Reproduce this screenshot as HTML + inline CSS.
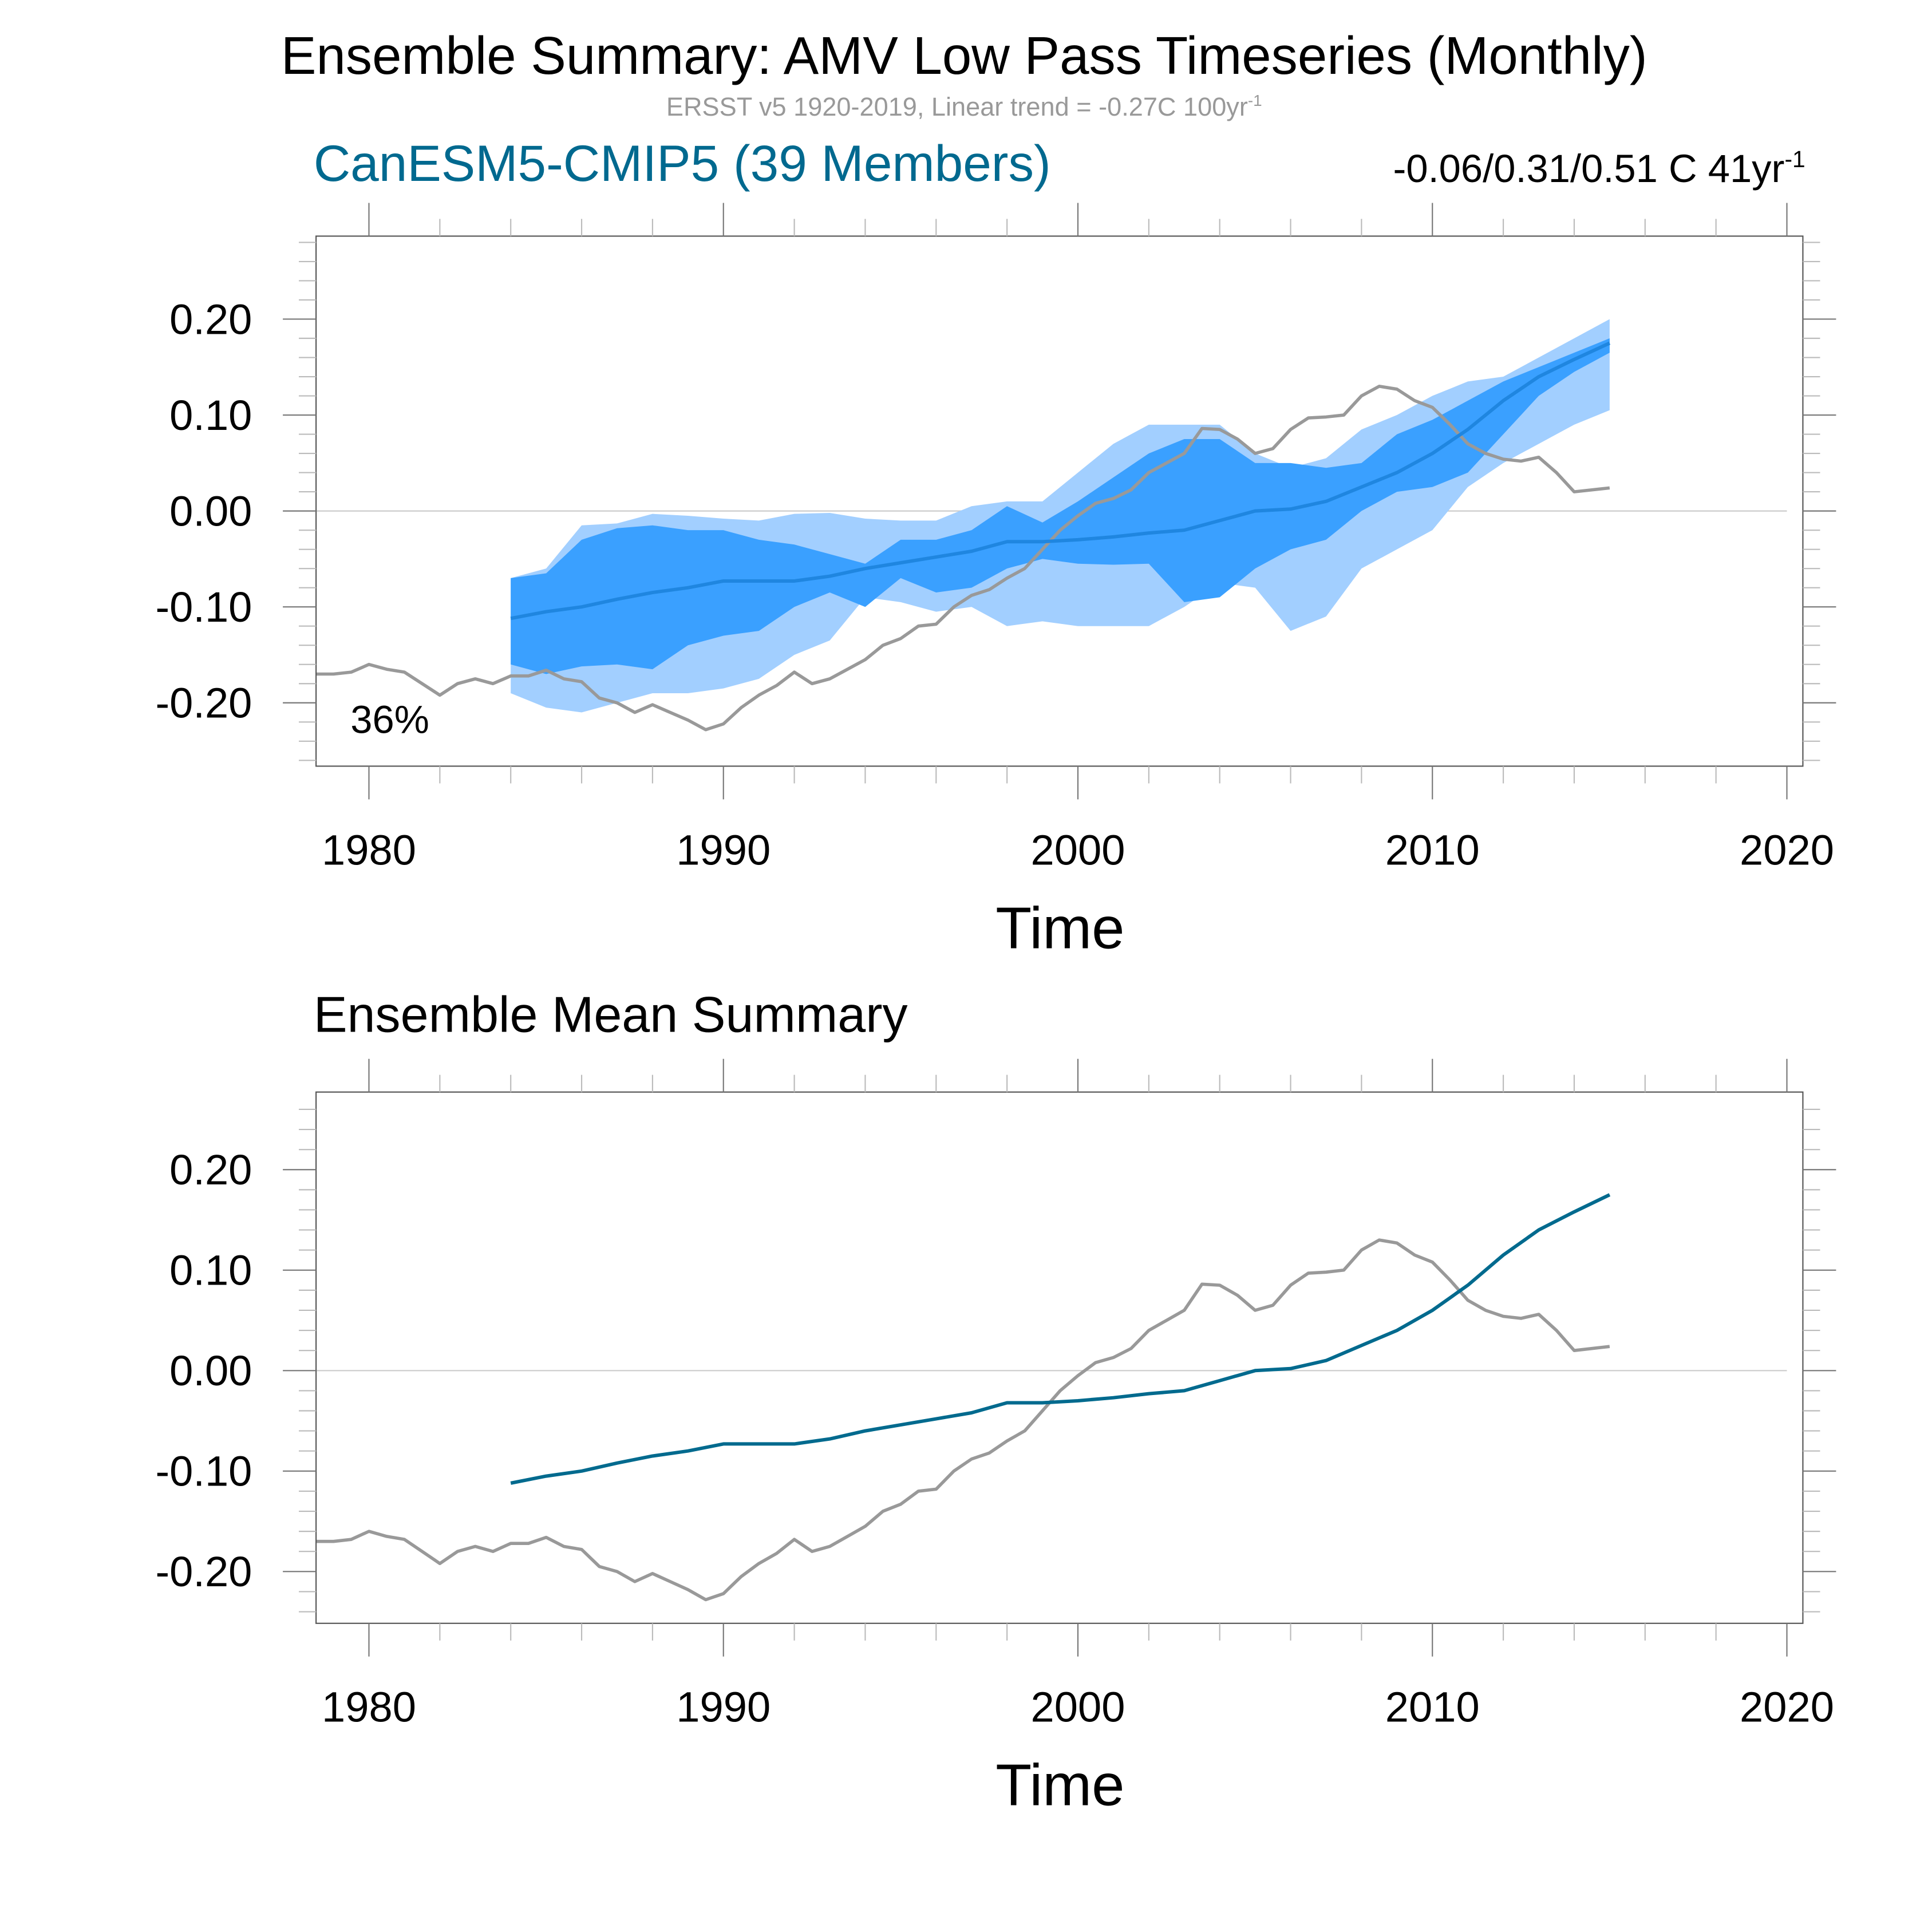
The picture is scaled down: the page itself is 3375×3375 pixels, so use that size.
<!DOCTYPE html>
<html><head><meta charset="utf-8"><style>
html,body{margin:0;padding:0;background:#fff}
svg{display:block}
text{font-family:"Liberation Sans",sans-serif}
</style></head><body>
<svg id="chart" width="3375" height="3375" viewBox="0 0 1571 1571" xmlns="http://www.w3.org/2000/svg">
<rect width="1571" height="1571" fill="#fff"/>
<text x="784" y="60" text-anchor="middle" font-size="43">Ensemble Summary: AMV Low Pass Timeseries (Monthly)</text>
<text x="784" y="94" text-anchor="middle" font-size="21" fill="#999">ERSST v5 1920-2019, Linear trend = -0.27C 100yr<tspan font-size="13" dy="-8">-1</tspan></text>
<text x="255" y="147" font-size="41.5" fill="#00698f">CanESM5-CMIP5 (39 Members)</text>
<text x="1468" y="148" text-anchor="end" font-size="32">-0.06/0.31/0.51 C 41yr<tspan font-size="19" dy="-12">-1</tspan></text>
<text x="285" y="596" font-size="32">36%</text>
<text x="255" y="839" font-size="41">Ensemble Mean Summary</text>
<g id="top"></g>
<g id="bot"></g>
</svg>
<script>
const obsYears=[1978.5,1979,1979.5,1980,1980.5,1981,1981.5,1982,1982.5,1983,1983.5,1984,1984.5,1985,1985.5,1986,1986.5,1987,1987.5,1988,1988.5,1989,1989.5,1990,1990.5,1991,1991.5,1992,1992.5,1993,1993.5,1994,1994.5,1995,1995.5,1996,1996.5,1997,1997.5,1998,1998.5,1999,1999.5,2000,2000.5,2001,2001.5,2002,2002.5,2003,2003.5,2004,2004.5,2005,2005.5,2006,2006.5,2007,2007.5,2008,2008.5,2009,2009.5,2010,2010.5,2011,2011.5,2012,2012.5,2013,2013.5,2014,2014.5,2015];
const obsValues=[-0.17,-0.17,-0.168,-0.16,-0.165,-0.168,-0.18,-0.192,-0.18,-0.175,-0.18,-0.172,-0.172,-0.166,-0.175,-0.178,-0.195,-0.2,-0.21,-0.202,-0.21,-0.218,-0.228,-0.222,-0.205,-0.192,-0.182,-0.168,-0.18,-0.175,-0.165,-0.155,-0.14,-0.133,-0.12,-0.118,-0.1,-0.088,-0.082,-0.07,-0.06,-0.04,-0.02,-0.005,0.008,0.013,0.022,0.04,0.05,0.06,0.086,0.085,0.075,0.06,0.065,0.085,0.097,0.098,0.1,0.12,0.13,0.127,0.115,0.108,0.09,0.07,0.06,0.054,0.052,0.056,0.04,0.02,0.022,0.024];
const ensYears=[1984,1985,1986,1987,1988,1989,1990,1991,1992,1993,1994,1995,1996,1997,1998,1999,2000,2001,2002,2003,2004,2005,2006,2007,2008,2009,2010,2011,2012,2013,2014,2015];
const ensMean=[-0.112,-0.105,-0.1,-0.092,-0.085,-0.08,-0.073,-0.073,-0.073,-0.068,-0.06,-0.054,-0.048,-0.042,-0.032,-0.032,-0.03,-0.027,-0.023,-0.02,-0.01,0.0,0.002,0.01,0.025,0.04,0.06,0.085,0.115,0.14,0.158,0.175];
const innerUpper=[-0.07,-0.065,-0.03,-0.018,-0.015,-0.02,-0.02,-0.03,-0.035,-0.045,-0.055,-0.03,-0.03,-0.02,0.005,-0.012,0.01,0.035,0.06,0.075,0.075,0.05,0.05,0.045,0.05,0.08,0.095,0.115,0.135,0.15,0.165,0.18];
const innerLower=[-0.16,-0.17,-0.162,-0.16,-0.165,-0.14,-0.13,-0.125,-0.1,-0.085,-0.1,-0.07,-0.085,-0.08,-0.06,-0.05,-0.055,-0.056,-0.055,-0.095,-0.09,-0.06,-0.04,-0.03,0.0,0.02,0.025,0.04,0.08,0.12,0.145,0.165];
const outerUpper=[-0.07,-0.06,-0.015,-0.013,-0.003,-0.005,-0.008,-0.01,-0.003,-0.002,-0.008,-0.01,-0.01,0.005,0.01,0.01,0.04,0.07,0.09,0.09,0.09,0.06,0.045,0.055,0.085,0.1,0.12,0.135,0.14,0.16,0.18,0.2];
const outerLower=[-0.19,-0.205,-0.21,-0.2,-0.19,-0.19,-0.185,-0.175,-0.15,-0.135,-0.09,-0.095,-0.105,-0.1,-0.12,-0.115,-0.12,-0.12,-0.12,-0.1,-0.075,-0.08,-0.125,-0.11,-0.06,-0.04,-0.02,0.025,0.05,0.07,0.09,0.105];
const xTickLabels=["1980","1990","2000","2010","2020"];
const yTickValues=[-0.2,-0.1,0,0.1,0.2];
const yTickLabels=["-0.20","-0.10","0.00","0.10","0.20"];

const NS="http://www.w3.org/2000/svg";
function mk(parent,tag,attrs){const e=document.createElementNS(NS,tag);for(const k in attrs)e.setAttribute(k,attrs[k]);parent.appendChild(e);return e;}
const X0=257,X1=1466,Y0YR=1980,PXYR=(1453-300)/40;
function xs(yr){return 300+(yr-Y0YR)*PXYR;}

function panel(g,top,bottom,yZero,pxPerUnit,isTop){
  const ys=v=>yZero-v*pxPerUnit;
  const z=mk(g,'line',{x1:X0,x2:1453,y1:ys(0),y2:ys(0),stroke:'#ccc','stroke-width':1});
  
  if(isTop){
    let d='';ensYears.forEach((y,i)=>{d+=(i?'L':'M')+xs(y)+','+ys(outerUpper[i]);});
    for(let i=ensYears.length-1;i>=0;i--)d+='L'+xs(ensYears[i])+','+ys(outerLower[i]);
    const p1=mk(g,'path',{d:d+'Z',fill:'#a2cfff'});
    
    d='';ensYears.forEach((y,i)=>{d+=(i?'L':'M')+xs(y)+','+ys(innerUpper[i]);});
    for(let i=ensYears.length-1;i>=0;i--)d+='L'+xs(ensYears[i])+','+ys(innerLower[i]);
    const p2=mk(g,'path',{d:d+'Z',fill:'#3aa0ff'});
    
  }
  let d='';obsYears.forEach((y,i)=>{d+=(i?'L':'M')+xs(y)+','+ys(obsValues[i]);});
  const o=mk(g,'path',{d:d,fill:'none',stroke:'#999','stroke-width':2.6,'stroke-linejoin':'round'});
  
  d='';ensYears.forEach((y,i)=>{d+=(i?'L':'M')+xs(y)+','+ys(ensMean[i]);});
  const m=mk(g,'path',{d:d,fill:'none',stroke:isTop?'#1f86e0':'#006a8e','stroke-width':2.8,'stroke-linejoin':'round'});
  
  const f=mk(g,'rect',{x:X0,y:top,width:X1-X0,height:bottom-top,fill:'none',stroke:'#555','stroke-width':1});
  
  for(let yr=1980;yr<=2020;yr+=2){
    const maj=yr%10===0,x=xs(yr),L=maj?27:14;
    mk(g,'line',{x1:x,x2:x,y1:top-L,y2:top,stroke:maj?'#777':'#bbb','stroke-width':1});
    mk(g,'line',{x1:x,x2:x,y1:bottom,y2:bottom+L,stroke:maj?'#777':'#bbb','stroke-width':1});
  }
  xTickLabels.forEach(l=>{
    const t=mk(g,'text',{x:xs(+l),y:bottom+80,'text-anchor':'middle','font-size':34.5});t.textContent=l;
    
  });
  for(let k=-13;k<=14;k++){
    const v=k*0.02,y=ys(v);if(y<top||y>bottom)continue;
    const maj=k%5===0,L=maj?27:14;
    mk(g,'line',{x1:X0-L,x2:X0,y1:y,y2:y,stroke:maj?'#777':'#bbb','stroke-width':1});
    mk(g,'line',{x1:X1,x2:X1+L,y1:y,y2:y,stroke:maj?'#777':'#bbb','stroke-width':1});
  }
  yTickValues.forEach((v,i)=>{
    const t=mk(g,'text',{x:205,y:ys(v)+12,'text-anchor':'end','font-size':34.5});t.textContent=yTickLabels[i];
    
  });
  const tt=mk(g,'text',{x:862,y:bottom+148,'text-anchor':'middle','font-size':48});tt.textContent='Time';
  
}
panel(document.getElementById('top'),192,623,415.5,780,true);
panel(document.getElementById('bot'),888,1320,1114.5,817,false);
</script>
</body></html>
